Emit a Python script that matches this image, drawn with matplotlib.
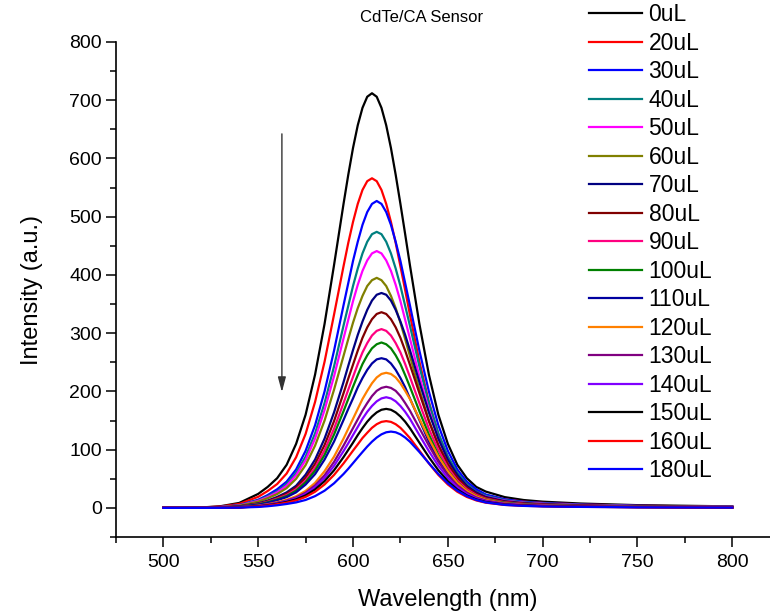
import matplotlib
matplotlib.use("Agg")
import matplotlib.pyplot as plt
from matplotlib.ticker import MultipleLocator

plt.rcParams["font.family"] = ["Liberation Sans", "DejaVu Sans"]

# wavelength grid (nm) shared by all spectra
wavelength = [500, 510, 520, 530, 540, 550, 555, 560, 565, 570,
              575, 580, 585, 590, 595, 597.5, 600, 602.5, 605, 607.5,
              610, 612.5, 615, 617.5, 620, 622.5, 625, 627.5, 630, 635,
              640, 645, 650, 655, 660, 665, 670, 680, 690, 700,
              720, 750, 800]

labels = ["0uL", "20uL", "30uL", "40uL", "50uL", "60uL", "70uL", "80uL", "90uL",
          "100uL", "110uL", "120uL", "130uL", "140uL", "150uL", "160uL", "180uL"]

colors = ["#000000", "#FF0000", "#0000FF", "#008080", "#FF00FF", "#808000",
          "#000080", "#800000", "#FF0080", "#008000", "#0000A0", "#FF8000",
          "#800080", "#8000FF", "#000000", "#FF0000", "#0000FF"]

# fluorescence intensity (a.u.), one row per added volume
intensity = [
    [0, 0, 0.7, 2.8, 8.5, 24, 36, 51, 74, 110, 160, 229, 316, 417, 522,
     572, 618, 657, 687, 706, 712, 706, 687, 657, 618, 572, 522, 470, 417, 316,
     229, 160, 110, 74, 51, 36, 28, 18.5, 13.5, 10.7, 7.5, 4.7, 2.6],
    [0, 0, 0.6, 2.3, 6.8, 19, 29, 41, 59, 87, 127, 182, 251, 332, 415,
     455, 491, 522, 546, 561, 566, 561, 546, 522, 491, 455, 415, 374, 332, 251,
     182, 127, 87, 59, 41, 29, 22, 14.7, 10.8, 8.5, 5.9, 3.7, 2.0],
    [0, 0, 0.5, 1.6, 4.7, 14, 22, 32, 45, 66, 98, 142, 200, 270, 348,
     386, 424, 457, 486, 508, 522, 527, 522, 508, 486, 457, 424, 386, 348, 270,
     200, 142, 98, 66, 45, 32, 23, 14.8, 10.5, 8.4, 5.8, 3.6, 1.9],
    [0, 0, 0.5, 1.4, 4.3, 13, 20, 28, 41, 60, 88, 128, 180, 243, 313,
     347, 381, 411, 437, 457, 470, 474, 470, 457, 437, 411, 381, 347, 313, 243,
     180, 128, 88, 60, 41, 28, 21, 13.3, 9.5, 7.6, 5.2, 3.2, 1.8],
    [0, 0, 0.4, 1.3, 4.0, 12, 18.5, 26.5, 38, 56, 82, 119, 168, 226, 291,
     323, 355, 383, 407, 425, 437, 441, 437, 425, 407, 383, 355, 323, 291, 226,
     168, 119, 82, 56, 38, 26.5, 19.4, 12.3, 8.8, 7.1, 4.9, 3.0, 1.6],
    [0, 0, 0.4, 1.2, 3.6, 10.7, 16.6, 23.7, 34, 50, 73.5, 107, 150, 203, 261,
     290, 318, 343, 364, 381, 391, 395, 391, 381, 364, 343, 318, 290, 261, 203,
     150, 107, 73.5, 50, 34, 23.7, 17.4, 11.1, 7.9, 6.3, 4.3, 2.7, 1.5],
    [0, 0, 0.4, 0.7, 2.6, 7.7, 12.5, 18.8, 26.6, 38, 57, 83, 119, 164, 216,
     244, 271, 297, 320, 340, 356, 366, 369, 366, 356, 340, 320, 297, 271, 216,
     164, 119, 83, 57, 38, 26.6, 18.8, 11.4, 8.1, 6.3, 4.2, 2.5, 1.4],
    [0, 0, 0.3, 0.7, 2.4, 7.1, 11.4, 17.1, 24.2, 35, 52, 75.6, 108, 149, 197,
     222, 246, 270, 292, 310, 324, 333, 336, 333, 324, 310, 292, 270, 246, 197,
     149, 108, 75.6, 52, 35, 24.2, 17.1, 10.4, 7.4, 5.7, 3.9, 2.3, 1.3],
    [0, 0, 0.3, 0.6, 2.1, 6.4, 10.4, 15.7, 22.1, 32, 47, 69, 99, 136, 180,
     203, 225, 247, 267, 283, 296, 304, 307, 304, 296, 283, 267, 247, 225, 180,
     136, 99, 69, 47, 32, 22.1, 15.7, 9.5, 6.8, 5.2, 3.5, 2.1, 1.2],
    [0, 0, 0.3, 0.6, 2.0, 6.0, 9.7, 14.5, 20.4, 29.5, 44, 64, 91, 126, 166,
     187, 208, 228, 247, 262, 274, 281, 284, 281, 274, 262, 247, 228, 208, 166,
     126, 91, 64, 44, 29.5, 20.4, 14.5, 8.8, 6.2, 4.8, 3.3, 2.0, 1.1],
    [0, 0, 0.3, 0.5, 1.8, 5.4, 8.7, 13.1, 18.5, 26.7, 40, 58, 83, 114, 151,
     170, 188, 207, 223, 237, 248, 255, 257, 255, 248, 237, 223, 207, 188, 151,
     114, 83, 58, 40, 26.7, 18.5, 13.1, 8.0, 5.7, 4.4, 3.0, 1.8, 1.0],
    [0, 0, 0, 0.3, 1.2, 3.7, 6.3, 9.7, 13.9, 20.0, 29.2, 43, 63, 88, 119,
     136, 153, 170, 187, 201, 214, 224, 230, 232, 230, 224, 214, 201, 187, 153,
     119, 88, 63, 43, 29.2, 20.0, 13.9, 7.9, 5.6, 4.2, 2.8, 1.6, 0.9],
    [0, 0, 0, 0.3, 1.0, 3.3, 5.6, 8.7, 12.5, 17.9, 26.2, 38.7, 56, 79, 107,
     122, 137, 152, 167, 180, 192, 201, 206, 208, 206, 201, 192, 180, 167, 137,
     107, 79, 56, 38.7, 26.2, 17.9, 12.5, 7.1, 5.0, 3.7, 2.5, 1.5, 0.8],
    [0, 0, 0, 0.3, 1.0, 3.0, 5.1, 8.0, 11.4, 16.3, 23.9, 35.3, 51.3, 72.2, 97.5,
     111, 125, 139, 153, 165, 175, 183, 188, 190, 188, 183, 175, 165, 153, 125,
     97.5, 72.2, 51.3, 35.3, 23.9, 16.3, 11.4, 6.5, 4.6, 3.4, 2.3, 1.3, 0.7],
    [0, 0, 0, 0.3, 0.9, 2.7, 4.6, 7.1, 10.2, 14.6, 21.4, 31.6, 45.9, 64.6, 87.2,
     99.6, 112, 125, 137, 148, 157, 164, 168.5, 170, 168.5, 164, 157, 148, 137, 112,
     87.2, 64.6, 45.9, 31.6, 21.4, 14.6, 10.2, 5.8, 4.1, 3.1, 2.1, 1.2, 0.7],
    [0, 0, 0, 0.2, 0.7, 2.4, 4.0, 6.3, 8.9, 12.8, 18.8, 27.7, 40.2, 56.6, 76.4,
     87.3, 98.3, 109, 120, 129, 137.5, 143.7, 147.7, 149, 147.7, 143.7, 137.5, 129, 120, 98.3,
     76.4, 56.6, 40.2, 27.7, 18.8, 12.8, 8.9, 5.1, 3.6, 2.7, 1.8, 1.1, 0.6],
    [0, 0, 0, 0.1, 0.5, 1.6, 2.8, 4.5, 6.7, 9.4, 13.6, 20.2, 29.5, 42.2, 58.2,
     67.2, 76.8, 86.5, 96.0, 105.3, 113.7, 120.8, 126.3, 129.8, 131, 129.8, 126.3, 120.8, 113.7, 96.0,
     76.8, 58.2, 42.2, 29.5, 20.2, 13.6, 9.4, 5.1, 3.4, 2.5, 1.7, 1.0, 0.5],
]

for row in intensity:
    assert len(row) == len(wavelength)

fig = plt.figure(figsize=(7.7, 6.14), dpi=100)
ax = fig.add_axes([0.1506, 0.1254, 0.862, 0.8062])

for lab, col, y in zip(labels, colors, intensity):
    ax.plot(wavelength, y, color=col, lw=1.6, label=lab, solid_joinstyle="round")

ax.set_xlim(475, 825)
ax.set_ylim(-50, 800)
ax.xaxis.set_minor_locator(MultipleLocator(25))
ax.yaxis.set_minor_locator(MultipleLocator(50))
ax.set_xticks(range(500, 801, 50))
ax.set_yticks(range(0, 801, 100))

for side in ("top", "right"):
    ax.spines[side].set_visible(False)
for side in ("left", "bottom"):
    ax.spines[side].set_linewidth(1.2)

ax.tick_params(which="major", direction="out", length=7, width=1.1,
               labelsize=14)
ax.tick_params(axis="x", which="major", pad=5)
ax.tick_params(axis="y", which="major", pad=3)
ax.tick_params(which="minor", direction="out", length=4, width=1.1)

ax.set_xlabel("Wavelength (nm)", fontsize=17, labelpad=13)
ax.set_ylabel("Intensity (a.u.)", fontsize=17, labelpad=19)

fig.text(0.548, 1 - 18 / 614, "CdTe/CA Sensor", fontsize=12,
         ha="center", va="center")

# arrow marking the quenching direction
ax.annotate("", xy=(562.5, 194), xytext=(562.5, 647),
            arrowprops=dict(arrowstyle="-|>,head_length=0.6,head_width=0.16",
                            color="#333333", lw=1, mutation_scale=15))

ax.legend(loc="upper left", bbox_to_anchor=(589 / 770, 0.995),
          bbox_transform=fig.transFigure, frameon=False, fontsize=16.5,
          handlelength=2.3, handletextpad=0.3, labelspacing=0.24,
          borderpad=0, borderaxespad=0)

fig.savefig("out.png", dpi=100)
